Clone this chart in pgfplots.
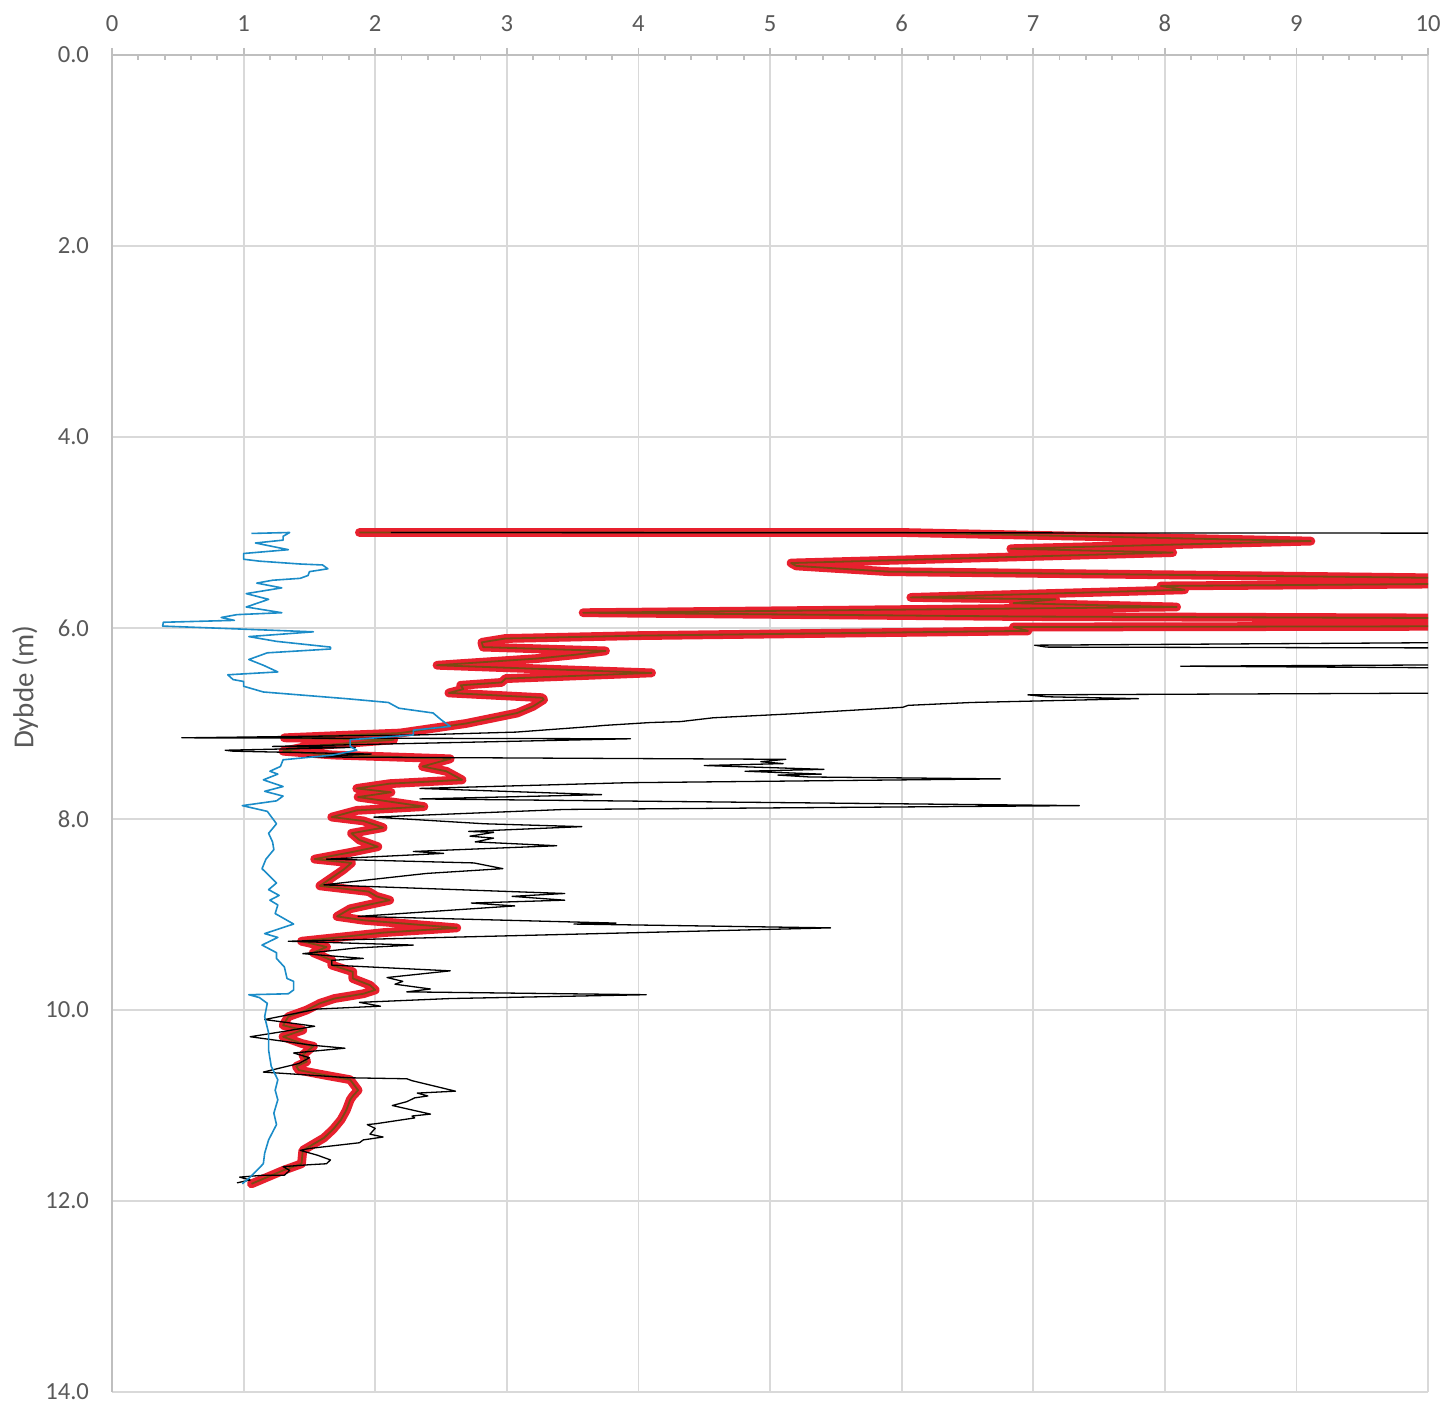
\documentclass[border=0pt]{standalone}
\usepackage{fontspec}
\setmainfont{Carlito}
\usepackage{pgfplots}
\usepackage{pgfplotstable}
\pgfplotsset{compat=1.18}
\definecolor{gridc}{HTML}{D9D9D9}
\definecolor{axc}{HTML}{BFBFBF}
\definecolor{txt}{HTML}{595959}
\definecolor{bluel}{HTML}{1B8CC8}
\definecolor{redl}{HTML}{E8202E}
\definecolor{corel}{HTML}{7B4A12}

\pgfplotstableread{
x d
1.88 5.00
6.00 5.00
9.11 5.09
6.83 5.17
8.06 5.21
5.16 5.32
5.20 5.35
5.90 5.41
11.0 5.49
11.0 5.53
7.97 5.56
8.15 5.60
6.07 5.68
7.17 5.70
6.85 5.74
8.09 5.78
3.58 5.84
6.93 5.88
11.0 5.90
11.0 5.98
6.85 5.99
6.96 6.03
4.00 6.08
2.99 6.11
2.81 6.15
2.82 6.20
3.75 6.24
3.52 6.28
3.23 6.32
2.47 6.39
4.10 6.47
2.99 6.53
2.96 6.57
2.65 6.60
2.67 6.64
2.56 6.68
3.27 6.73
3.28 6.75
3.20 6.82
3.08 6.89
2.69 7.00
2.44 7.05
2.19 7.10
1.83 7.12
1.31 7.15
2.14 7.17
1.48 7.24
1.30 7.29
1.68 7.33
2.57 7.37
2.36 7.45
2.54 7.50
2.66 7.59
2.11 7.63
1.86 7.68
2.12 7.72
1.87 7.77
2.37 7.87
1.86 7.91
1.67 7.98
1.91 8.02
2.06 8.09
1.82 8.15
1.88 8.22
2.02 8.29
1.81 8.35
1.54 8.42
1.82 8.46
1.76 8.53
1.58 8.70
1.95 8.76
2.01 8.81
2.11 8.85
1.81 8.94
1.71 9.02
1.91 9.06
2.62 9.14
2.06 9.19
1.44 9.28
1.63 9.34
1.53 9.40
1.67 9.48
1.67 9.53
1.83 9.60
1.83 9.67
1.96 9.74
2.00 9.79
1.91 9.83
1.69 9.88
1.58 9.93
1.48 10.00
1.34 10.07
1.30 10.16
1.45 10.21
1.30 10.28
1.44 10.35
1.53 10.38
1.45 10.47
1.48 10.54
1.40 10.59
1.42 10.63
1.61 10.68
1.81 10.73
1.87 10.84
1.83 10.90
1.81 10.94
1.78 11.05
1.74 11.15
1.68 11.25
1.61 11.34
1.45 11.47
1.44 11.61
1.30 11.68
1.18 11.75
1.06 11.82
}\redtab

\pgfplotstableread{
x d
2.12 5.00
14.0 5.01
14.0 6.12
7.01 6.18
7.10 6.20
14.0 6.22
14.0 6.36
8.12 6.40
14.0 6.45
14.0 6.66
6.96 6.70
7.10 6.72
7.80 6.74
6.53 6.78
6.05 6.81
6.01 6.83
5.15 6.90
4.57 6.94
4.32 6.98
4.09 6.99
3.74 7.02
3.66 7.03
3.07 7.09
2.31 7.12
0.53 7.15
3.94 7.16
1.22 7.24
1.85 7.25
0.86 7.28
0.92 7.29
1.97 7.32
1.48 7.35
5.12 7.375
4.93 7.40
5.10 7.42
4.50 7.44
5.41 7.48
4.81 7.50
5.39 7.53
5.06 7.54
5.30 7.56
6.75 7.58
3.92 7.62
2.34 7.68
3.72 7.745
2.34 7.79
7.35 7.86
3.44 7.90
1.99 7.98
2.83 8.05
3.57 8.08
2.71 8.13
2.90 8.14
2.72 8.18
2.90 8.20
2.76 8.24
3.38 8.28
2.29 8.34
2.52 8.36
1.63 8.42
2.75 8.46
2.97 8.52
2.39 8.57
1.93 8.64
1.61 8.69
3.44 8.78
3.04 8.81
3.44 8.85
2.73 8.88
3.06 8.91
1.87 9.02
3.83 9.09
3.51 9.10
5.46 9.14
1.34 9.28
2.29 9.32
1.86 9.35
1.45 9.41
1.91 9.46
1.67 9.48
1.67 9.53
2.57 9.59
2.09 9.66
2.21 9.70
2.15 9.73
2.42 9.78
2.24 9.81
4.06 9.84
2.57 9.88
1.88 9.92
2.04 9.96
1.56 9.99
1.16 10.10
1.54 10.17
1.28 10.23
1.05 10.28
1.53 10.37
1.77 10.40
1.38 10.45
1.50 10.50
1.42 10.56
1.15 10.65
1.81 10.71
2.24 10.72
2.28 10.74
2.61 10.85
2.32 10.87
2.40 10.90
2.30 10.92
2.24 10.96
2.13 11.00
2.29 11.05
2.42 11.09
2.28 11.11
2.30 11.13
2.01 11.19
1.94 11.20
2.00 11.24
1.96 11.30
2.06 11.33
1.91 11.36
1.88 11.39
1.50 11.45
1.43 11.47
1.56 11.52
1.66 11.57
1.63 11.61
1.50 11.62
1.30 11.64
1.35 11.68
1.31 11.73
1.15 11.73
0.97 11.75
1.05 11.78
0.95 11.81
}\blacktab

\pgfplotstableread{
x d
1.06 5.01
1.35 5.00
1.30 5.04
1.30 5.08
1.09 5.11
1.34 5.18
1.00 5.22
1.00 5.28
1.12 5.30
1.43 5.33
1.60 5.34
1.64 5.38
1.50 5.41
1.49 5.45
1.43 5.48
1.22 5.50
1.10 5.53
1.29 5.58
1.02 5.64
1.19 5.70
1.02 5.78
1.29 5.84
0.95 5.86
0.83 5.89
0.93 5.92
0.39 5.94
0.385 5.98
1.53 6.04
1.04 6.09
1.25 6.14
1.66 6.20
1.66 6.22
1.18 6.26
1.04 6.33
1.15 6.39
1.26 6.46
0.88 6.49
0.92 6.54
1.00 6.56
1.00 6.61
1.15 6.67
1.78 6.74
2.10 6.78
2.18 6.84
2.44 6.89
2.50 6.96
2.57 7.03
2.29 7.07
2.29 7.12
1.81 7.17
1.81 7.24
1.86 7.28
1.68 7.33
1.30 7.38
1.28 7.45
1.20 7.50
1.26 7.53
1.15 7.59
1.30 7.66
1.16 7.71
1.30 7.76
1.25 7.81
0.99 7.86
1.18 7.92
1.25 8.05
1.19 8.15
1.22 8.24
1.23 8.32
1.17 8.42
1.14 8.52
1.25 8.67
1.19 8.74
1.27 8.80
1.20 8.85
1.26 8.90
1.24 8.99
1.38 9.10
1.16 9.20
1.26 9.24
1.14 9.32
1.25 9.40
1.25 9.46
1.31 9.55
1.33 9.67
1.38 9.70
1.38 9.79
1.34 9.83
1.04 9.84
1.12 9.87
1.18 9.93
1.16 10.07
1.19 10.24
1.19 10.42
1.21 10.59
1.26 10.73
1.24 10.84
1.26 10.94
1.23 11.08
1.25 11.20
1.19 11.36
1.16 11.50
1.15 11.61
1.05 11.75
0.99 11.82
}\bluetab

\begin{document}
\begin{tikzpicture}
\begin{axis}[
  name=a,
  scale only axis, width=658pt, height=668.5pt,
  xmin=0, xmax=10, ymin=0, ymax=14, y dir=reverse,
  axis x line*=top, axis y line*=left,
  axis line style={axc, line width=0.9pt},
  xtick={0,...,10}, ytick={0,2,...,14},
  minor x tick num=4,
  grid=major, major grid style={gridc, line width=0.9pt},
  tick align=outside,
  major tick length=3.5pt, minor tick length=2.5pt,
  x tick style={axc, line width=0.9pt},
  minor x tick style={yshift=-2.5pt},
  y tick style={draw=none},
  /pgf/number format/assume math mode=true,
  ticklabel style={font=\fontsize{12.3}{14}\selectfont, text=txt},
  xticklabel style={yshift=4.5pt},
  yticklabel style={xshift=-4.5pt, /pgf/number format/.cd, fixed, fixed zerofill, precision=1},
  ylabel={Dybde (m)},
  every axis y label/.style={at={(axis description cs:-0.066,0.527)}, rotate=90, anchor=center, font=\fontsize{14.5}{16}\selectfont, text=txt},
]
\addplot[redl, line width=4.4pt, line join=round, line cap=round] table[x=x,y=d] {\redtab};
\addplot[corel, line width=0.9pt, line join=round] table[x=x,y=d] {\redtab};
\addplot[black, line width=0.65pt, line join=round] table[x=x,y=d] {\blacktab};
\addplot[bluel, line width=0.8pt, line join=round] table[x=x,y=d] {\bluetab};
\end{axis}
\pgfresetboundingbox
\path ([xshift=-56pt,yshift=-6.5pt]a.south west) rectangle ([xshift=8.5pt,yshift=27.5pt]a.north east);
\end{tikzpicture}
\end{document}
